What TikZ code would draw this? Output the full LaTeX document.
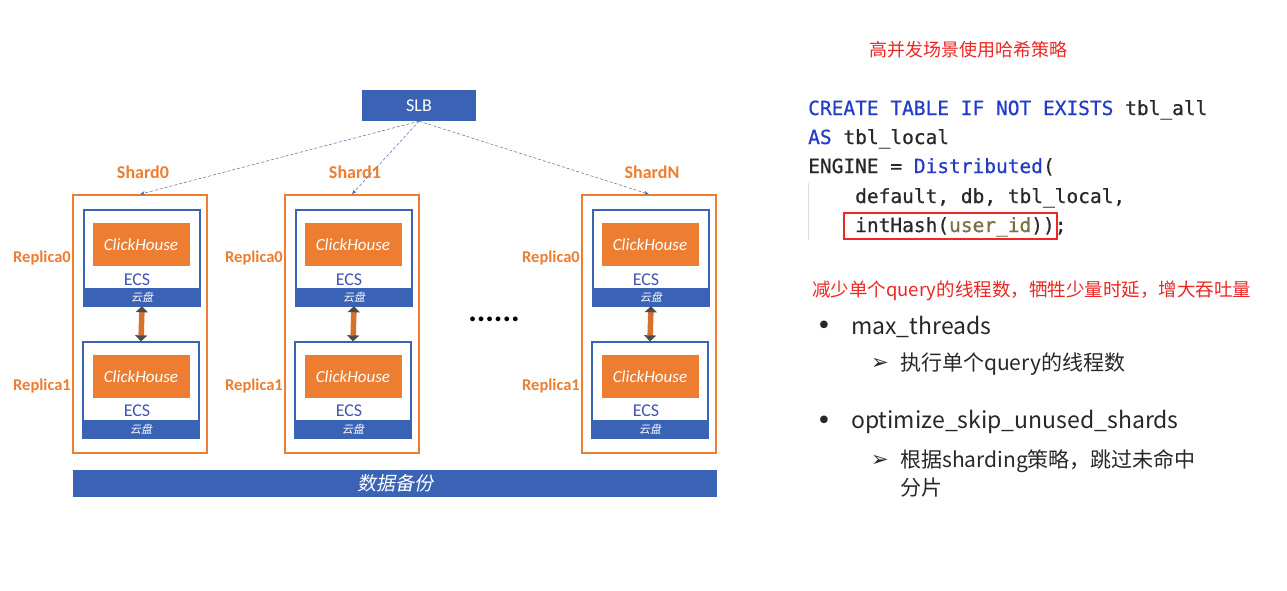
\documentclass[tikz,border=0pt]{standalone}
\usepackage{fontspec}
\usetikzlibrary{arrows.meta,positioning}
\setmainfont{Carlito}
\newfontfamily\cjk{Noto Sans CJK SC}
\newfontfamily\cjkslant[FakeSlant=0.2]{Noto Sans CJK SC}
\newfontfamily\codefont[FakeBold=0.6]{DejaVu Sans Mono}
\newfontfamily\symfont{DejaVu Sans}
\newcommand{\fs}[1]{\fontsize{#1}{#1}\selectfont}

\definecolor{slbblue}{RGB}{58,99,182}
\definecolor{shardorange}{RGB}{237,125,49}
\definecolor{ecsblue}{RGB}{68,84,180}
\definecolor{hashred}{RGB}{235,40,35}
\definecolor{kwblue}{RGB}{35,60,200}
\definecolor{argolive}{RGB}{125,110,70}
\definecolor{txtgray}{RGB}{40,40,40}

\tikzset{
	bluebar/.style={fill=slbblue, text=white, inner sep=0},
	shard/.style={draw=shardorange, line width=1.6pt, minimum width=134, minimum height=258, inner sep=0},
	ecs/.style={draw=slbblue, line width=1.3pt, fill=white, minimum width=116, minimum height=96, inner sep=0},
	ch/.style={fill=shardorange, text=white, minimum width=97, minimum height=43, inner sep=0, font=\fs{17}\itshape},
	disk/.style={bluebar, minimum width=116, minimum height=18, font=\cjkslant\fs{11}},
	ecslbl/.style={text=ecsblue, inner sep=0, font=\fs{18}},
	olbl/.style={text=shardorange, inner sep=0, font=\bfseries\fs{16.5}},
	link/.style={draw=slbblue!70!gray, densely dashed, line width=0.5pt, -{Stealth[length=5pt]}},
	sync/.style={draw=shardorange!90!black, line width=5.5pt, {Triangle[width=12pt,length=6pt,color=gray!60!black]}-{Triangle[width=12pt,length=6pt,color=gray!60!black]}},
	codeline/.style={anchor=base west, inner sep=0, text=txtgray, font=\codefont\fs{19.5}},
	plain/.style={anchor=west, inner sep=0, text=txtgray, font=\cjk\fs{21}},
	bullet/.style={text=txtgray, inner sep=0, font=\symfont\fs{26}},
	pointer/.style={text=txtgray, inner sep=0, font=\symfont\fs{21}},
}

\begin{document}
\begin{tikzpicture}[x=1pt,y=-1pt]
			\useasboundingbox[fill=white] (0,0) rectangle (1287,590);
			% load balancer
			\node[bluebar, minimum width=114, minimum height=31, font=\fs{18}] (slb) at (419,105.5) {SLB};
			% shards
			\foreach \i/\x/\lab in {0/73/0,1/285/1,2/582/N}{
				\node[shard] (s\i) at (\x+67,324) {};
				\node[olbl, font=\bfseries\fs{18}] (sl\i) at (\x+70,172) {Shard\lab};
				\node[ecs] (ea\i) at (\x+69,258) {};
				\node[ch] (ca\i) at (\x+68,244.5) {ClickHouse};
				\node[ecslbl] (ta\i) at (\x+64,280) {ECS};
				\node[disk] (da\i) at (\x+69,297) {云盘};
				\node[ecs] (eb\i) at (\x+68,390) {};
				\node[ch] (cb\i) at (\x+68,376.5) {ClickHouse};
				\node[ecslbl] (tb\i) at (\x+64,411) {ECS};
				\node[disk] (db\i) at (\x+68,429) {云盘};
				\node[olbl, anchor=east] (ra\i) at (\x-2,258) {Replica0};
				\node[olbl, anchor=east] (rb\i) at (\x-2,386) {Replica1};
				\draw[sync] (da\i.south) -- (eb\i.north);
				\draw[link] (slb.south) -- (s\i.north);
			}
			\node[font=\bfseries\fs{32}] (dots) at (494,319) {......};
			\node[bluebar, minimum width=644, minimum height=27, font=\cjkslant\fs{19}] (bak) at (395,483.5) {数据备份};
			% right side
			\node[text=hashred, font=\cjk\fs{18}] (title) at (968,50) {高并发场景使用哈希策略};
			\node[codeline] (c1) at (808,115) {\textcolor{kwblue}{CREATE TABLE IF NOT EXISTS} tbl\_all};
			\node[codeline] (c2) at (808,144) {\textcolor{kwblue}{AS} tbl\_local};
			\node[codeline] (c3) at (808,173) {ENGINE = \textcolor{kwblue}{Distributed}(};
			\node[codeline] (c4) at (855,203) {default, db, tbl\_local,};
			\node[codeline] (c5) at (855,232) {intHash(\textcolor{argolive}{user\_id}));};
			\draw[gray!25] (808,183) -- (808,240);
			\draw[hashred, line width=2.5pt] (844,213) rectangle (1057,239);
			\node[anchor=west, inner sep=0, text=hashred, font=\cjk\fs{18.5}] (note) at (812,291) {减少单个query的线程数，牺牲少量时延，增大吞吐量};
			\node[bullet] (d1) at (824,328) {•};
			\node[plain, font=\cjk\fs{23}] (b1) at (851,327) {max\_threads};
			\node[pointer] (a1) at (880,364) {➢};
			\node[plain] (t1) at (900,364) {执行单个query的线程数};
			\node[bullet] (d2) at (824,423) {•};
			\node[plain, font=\cjk\fs{23}] (b2) at (851,422) {optimize\_skip\_unused\_shards};
			\node[pointer] (a2) at (880,461) {➢};
			\node[plain] (t2) at (900,461) {根据sharding策略，跳过未命中};
			\node[plain] (t3) at (900,488) {分片};
\end{tikzpicture}
\end{document}
